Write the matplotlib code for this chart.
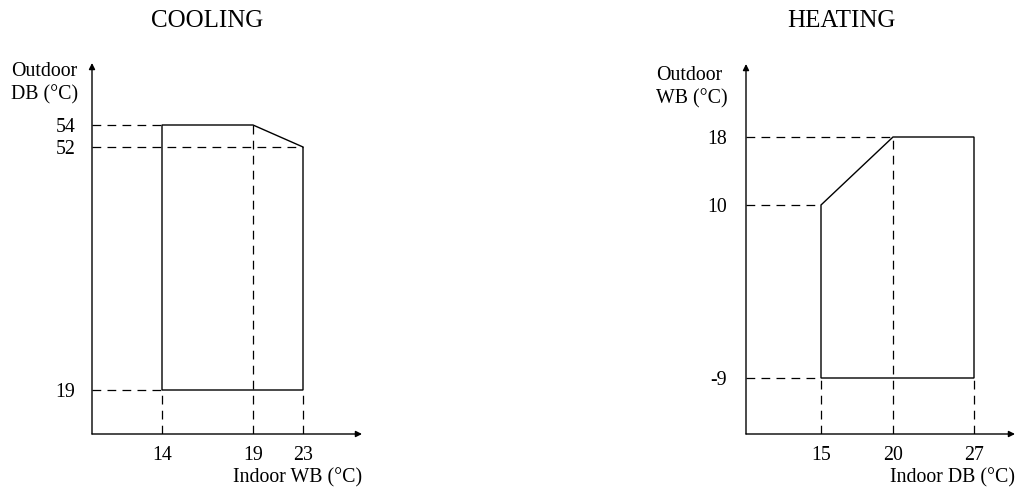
import numpy as np
import matplotlib
matplotlib.use("Agg")
import matplotlib.pyplot as plt

plt.rcParams['font.family'] = ['Liberation Serif', 'DejaVu Serif']

# cooling envelope (indoor WB, outdoor DB)
cool_x = [14, 14, 19, 23, 23]
cool_y = [19, 54, 54, 52, 19]
cool_xticks = [14, 19, 23]
cool_yticks = [54, 52, 19]

# heating envelope (indoor DB, outdoor WB)
heat_x = [15, 15, 20, 27, 27]
heat_y = [-9, 10, 18, 18, -9]
heat_xticks = [15, 20, 27]
heat_yticks = [18, 10, -9]

W, H = 1016, 488
FS = 14.3
fig = plt.figure(figsize=(W / 100, H / 100), dpi=100)


def piecewise(vals, pos):
    # schematic (non-linear) axis: values are spread as in the drawing
    fwd = lambda v: np.interp(v, vals, pos)
    inv = lambda p: np.interp(p, pos, vals)
    return fwd, inv


def panel(rect, xs, ys, xticks, yticks, xknots, yknots, title, tx, xlabel, ylab, ylx):
    ax = fig.add_axes([rect[0] / W, 1 - rect[3] / H, (rect[1] - rect[0]) / W, (rect[3] - rect[2]) / H])
    ax.set_xscale('function', functions=piecewise(*xknots))
    ax.set_yscale('function', functions=piecewise(*yknots))
    ax.set_xlim(xknots[0][0], xknots[0][-1])
    ax.set_ylim(yknots[0][0], yknots[0][-1])
    for s in ax.spines.values():
        s.set_visible(False)
    ax.patch.set_alpha(0)

    x0, y0 = xknots[0][0], yknots[0][0]
    dash = dict(color='black', lw=0.9, ls=(0, (7, 5)))
    # guide lines
    for yv in yticks:
        xe = max(x for x, y in zip(xs, ys) if y == yv)
        xe = min(x for x, y in zip(xs, ys) if y == yv) if yv != yticks[1] or title == 'HEATING' else xe
        ax.plot([x0, xe], [yv, yv], **dash)
    for xv in xticks:
        ye = max(y for x, y in zip(xs, ys) if x == xv) if xv == xticks[1] else min(y for x, y in zip(xs, ys) if x == xv)
        ax.plot([xv, xv], [y0, ye], **dash)

    ax.fill(xs, ys, facecolor='none', edgecolor='black', lw=1.0, closed=True)

    # axes with arrows
    ax.annotate('', xy=(0, 1), xytext=(0, 0), xycoords='axes fraction',
                arrowprops=dict(arrowstyle='-|>', color='black', lw=1.0, mutation_scale=9, shrinkA=0, shrinkB=0))
    ax.annotate('', xy=(1, 0), xytext=(0, 0), xycoords='axes fraction',
                arrowprops=dict(arrowstyle='-|>', color='black', lw=1.0, mutation_scale=9, shrinkA=0, shrinkB=0))

    ax.set_xticks(xticks)
    ax.set_xticklabels([str(v) for v in xticks])
    ax.set_yticks(yticks)
    ax.set_yticklabels([str(v) for v in yticks])
    ax.tick_params(length=0, labelsize=FS)
    ax.tick_params(axis='x', pad=9)
    ax.tick_params(axis='y', pad=ylx)
    ax.minorticks_off()

    fig.text(tx / W, 1 - 27 / H, title, ha='center', va='baseline', fontsize=18)
    fig.text(rect[1] / W, 1 - 478 / H, xlabel, ha='right', va='center', fontsize=FS)
    fig.text(ylab[1] / W, 1 - ylab[2] / H, ylab[0], ha='left', va='baseline', fontsize=FS)
    fig.text(ylab[1] / W, 1 - (ylab[2] + 23) / H, ylab[3], ha='left', va='baseline', fontsize=FS)
    return ax


panel((92, 362, 63, 434), cool_x, cool_y, cool_xticks, cool_yticks,
      ([10, 14, 19, 23, 27], [0, 70, 161, 211, 270]),
      ([15, 19, 52, 54, 58], [0, 44, 287, 309, 371]),
      'COOLING', 207, 'Indoor WB (°C)', ('Outdoor', 11, 76, 'DB (°C)'), 12)

panel((746, 1015, 64, 434), heat_x, heat_y, heat_xticks, heat_yticks,
      ([10, 15, 20, 27, 32], [0, 75, 147, 228, 269]),
      ([-15, -9, 10, 18, 25], [0, 56, 229, 297, 370]),
      'HEATING', 841, 'Indoor DB (°C)', ('Outdoor', 656, 80, 'WB (°C)'), 14)

fig.savefig('out.png', dpi=100)
